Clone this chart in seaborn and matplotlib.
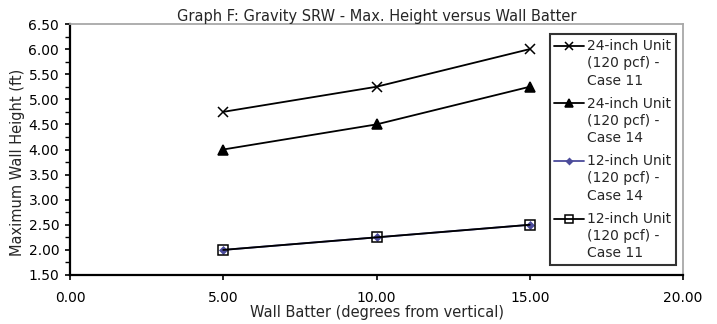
import matplotlib
matplotlib.use("Agg")
import matplotlib.pyplot as plt
from matplotlib.ticker import MultipleLocator, FormatStrFormatter
from matplotlib.legend_handler import HandlerLine2D
import seaborn as sns
import pandas as pd

wall_batter = [5.0, 10.0, 15.0]
series_names = [
    "24-inch Unit\n(120 pcf) -\nCase 11",
    "24-inch Unit\n(120 pcf) -\nCase 14",
    "12-inch Unit\n(120 pcf) -\nCase 14",
    "12-inch Unit\n(120 pcf) -\nCase 11",
]
height_24_case11 = [4.75, 5.25, 6.00]
height_24_case14 = [4.00, 4.50, 5.25]
height_12_case14 = [2.00, 2.25, 2.50]
height_12_case11 = [2.00, 2.25, 2.50]

rows = []
for name, vals in zip(series_names, [height_24_case11, height_24_case14,
                                     height_12_case14, height_12_case11]):
    for x, y in zip(wall_batter, vals):
        rows.append({"batter": x, "height": y, "series": name})
df = pd.DataFrame(rows)

sns.set_theme(style="white")
plt.rcParams["font.family"] = ["DejaVu Sans"]

fig = plt.figure(figsize=(7.17, 3.24), dpi=100)
ax = fig.add_axes([70 / 717, 1 - 275 / 324, 613 / 717, 251 / 324])

blue = "#4b4b9b"
styles = {
    series_names[0]: dict(marker="x", color="black", ms=7.5, mfc="black"),
    series_names[1]: dict(marker="^", color="black", ms=7.5, mfc="black"),
    series_names[2]: dict(marker="D", color=blue, ms=3.5, mfc=blue),
    series_names[3]: dict(marker="s", color="black", ms=7.5, mfc="none"),
}
# the blue series sits under the hollow squares
for name in series_names:
    st = styles[name]
    sub = df[df["series"] == name]
    sns.lineplot(data=sub, x="batter", y="height", ax=ax, color=st["color"],
                 marker=st["marker"], markersize=st["ms"], markeredgewidth=1.1,
                 markerfacecolor=st["mfc"], markeredgecolor=st["color"],
                 linewidth=1.3, label=name)

ax.set_xlim(0, 20)
ax.set_ylim(1.5, 6.5)
ax.xaxis.set_major_locator(MultipleLocator(5))
ax.yaxis.set_major_locator(MultipleLocator(0.5))
ax.yaxis.set_minor_locator(MultipleLocator(0.25))
ax.xaxis.set_major_formatter(FormatStrFormatter("%.2f"))
ax.yaxis.set_major_formatter(FormatStrFormatter("%.2f"))
ax.tick_params(axis="both", which="both", direction="out", labelsize=10,
               colors="black", left=True, bottom=True)
ax.tick_params(axis="both", which="major", length=3.8, width=1.2)
ax.tick_params(axis="y", which="minor", length=3.8, width=1.0)
ax.tick_params(axis="x", pad=8)
ax.tick_params(axis="y", pad=4)

for side in ["left", "bottom"]:
    ax.spines[side].set_color("black")
    ax.spines[side].set_linewidth(1.6)
for side in ["top", "right"]:
    ax.spines[side].set_color("#a8a8a8")
    ax.spines[side].set_linewidth(1.3)

ax.set_title("Graph F: Gravity SRW - Max. Height versus Wall Batter",
             fontsize=10.5, pad=2)
ax.set_xlabel("Wall Batter (degrees from vertical)", fontsize=10.5, labelpad=0)
ax.set_ylabel("Maximum Wall Height (ft)", fontsize=10.5)
ax.yaxis.set_label_coords(-0.074, 0.45)

LINE_SPACING = 1.3


class TopLineHandler(HandlerLine2D):
    """Place the legend key next to the first line of a multi-line label."""

    def create_artists(self, legend, orig_handle, xdescent, ydescent,
                       width, height, fontsize, trans):
        shift = 2 * fontsize * LINE_SPACING
        return super().create_artists(legend, orig_handle, xdescent,
                                      ydescent - shift, width, height,
                                      fontsize, trans)


handles, labels = ax.get_legend_handles_labels()
hmap = dict(zip(labels, handles))
leg_handles = [hmap[n] for n in series_names]
leg = ax.legend(leg_handles, series_names,
                loc="upper right", bbox_to_anchor=(0.9886, 0.960),
                fontsize=10, frameon=True, fancybox=False, edgecolor="black",
                handlelength=2.1, handletextpad=0.25, labelspacing=0.65,
                borderpad=0.35, borderaxespad=0, markerscale=0.85,
                handler_map={h: TopLineHandler() for h in leg_handles})
for t in leg.get_texts():
    t.set_linespacing(LINE_SPACING)
leg.get_frame().set_linewidth(1.5)

fig.savefig("out.png", dpi=100)
